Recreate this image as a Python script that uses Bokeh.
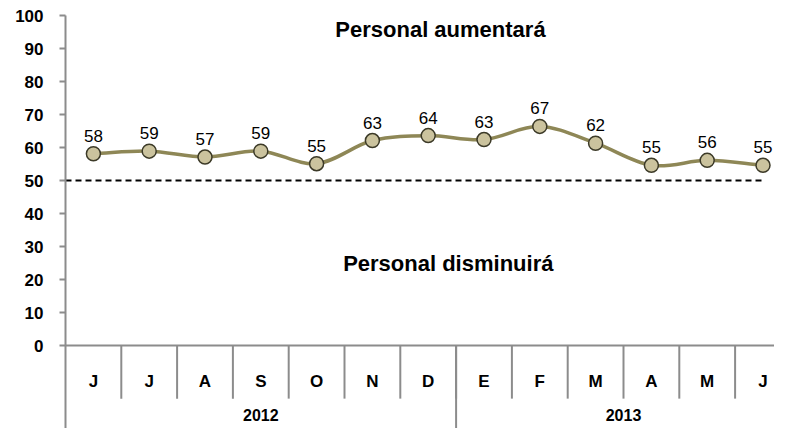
from bokeh.plotting import figure
from bokeh.models import Range1d, FixedTicker
from bokeh.embed import file_html
from bokeh.resources import INLINE
from bokeh.core.properties import value

# ---- data ----
months = ["J", "J", "A", "S", "O", "N", "D", "E", "F", "M", "A", "M", "J"]
years = ["2012", "2013"]
year_counts = [7, 6]
values = [58.1, 58.9, 57.1, 58.9, 55.1, 62.1, 63.6, 62.4, 66.4, 61.3, 54.6, 56.1, 54.6]
value_labels = ["58", "59", "57", "59", "55", "63", "64", "63", "67", "62", "55", "56", "55"]
y_ticks = list(range(0, 101, 10))
threshold = 50
top_text = "Personal aumentará"
bottom_text = "Personal disminuirá"

FONT = "Liberation Sans"
LINE_COL = "#8E8756"
FILL_COL = "#CBC39E"
EDGE_COL = "#3C3A28"
AXIS_COL = "#8C8C8C"

n = len(months)
W, H = 774, 428
LEFT, TOP = 65, 15
CAT_PX = 55.8
PX_PER_UNIT = 3.3
X_END = (W - LEFT) / CAT_PX
Y_BOTTOM = 100 - (H - TOP) / PX_PER_UNIT

p = figure(width=W, height=H, output_backend="svg", toolbar_location=None,
           x_range=Range1d(0, X_END), y_range=Range1d(Y_BOTTOM, 100),
           x_axis_location=None, min_border_left=LEFT, min_border_right=0,
           min_border_top=TOP, min_border_bottom=0)
p.outline_line_color = None
p.xgrid.visible = False
p.ygrid.visible = False
p.background_fill_color = "white"

ax = p.yaxis[0]
ax.ticker = FixedTicker(ticks=y_ticks)
ax.axis_line_color = AXIS_COL
ax.axis_line_width = 2
ax.major_tick_line_color = AXIS_COL
ax.major_tick_line_width = 2
ax.major_tick_out = 6
ax.major_tick_in = 0
ax.minor_tick_line_color = None
ax.major_label_standoff = 16
ax.major_label_text_font = FONT
ax.major_label_text_font_style = "bold"
ax.major_label_text_font_size = "17px"
ax.major_label_text_color = "black"

# category axis drawn in data space below zero
p.segment(x0=[0], y0=[0], x1=[n], y1=[0], line_color=AXIS_COL, line_width=2)
p.segment(x0=list(range(1, n + 1)), y0=[0] * n, x1=list(range(1, n + 1)), y1=[-16.1] * n,
          line_color=AXIS_COL, line_width=2)
bounds = []
acc = 0
for c in year_counts:
    acc += c
    bounds.append(acc)
p.segment(x0=bounds, y0=[0] * len(bounds), x1=bounds, y1=[Y_BOTTOM] * len(bounds),
          line_color=AXIS_COL, line_width=2)

xs = [i + 0.5 for i in range(n)]
p.text(x=xs, y=[-10.9] * n, text=months, text_align="center", text_baseline="middle",
       text_font=value(FONT), text_font_style="bold", text_font_size="17px", text_color="black")
starts = [0] + bounds[:-1]
ycx = [s + c / 2 for s, c in zip(starts, year_counts)]
p.text(x=ycx, y=[-21.2] * len(years), text=years, text_align="center", text_baseline="middle",
       text_font=value(FONT), text_font_style="bold", text_font_size="16px", text_color="black")

# threshold dashed line
p.segment(x0=[0], y0=[threshold], x1=[n - 0.5], y1=[threshold], line_color="black",
          line_width=2, line_dash="6 4")

# smoothed line via bezier segments
tang = []
for i in range(n):
    if i == 0:
        tang.append(((xs[1] - xs[0]), (values[1] - values[0])))
    elif i == n - 1:
        tang.append(((xs[-1] - xs[-2]), (values[-1] - values[-2])))
    else:
        tang.append(((xs[i + 1] - xs[i - 1]) / 2, (values[i + 1] - values[i - 1]) / 2))
x0 = xs[:-1]
y0 = values[:-1]
x1 = xs[1:]
y1 = values[1:]
cx0 = [xs[i] + tang[i][0] / 3 for i in range(n - 1)]
cy0 = [values[i] + tang[i][1] / 3 for i in range(n - 1)]
cx1 = [xs[i + 1] - tang[i + 1][0] / 3 for i in range(n - 1)]
cy1 = [values[i + 1] - tang[i + 1][1] / 3 for i in range(n - 1)]
p.bezier(x0=x0, y0=y0, x1=x1, y1=y1, cx0=cx0, cy0=cy0, cx1=cx1, cy1=cy1,
         line_color=LINE_COL, line_width=3.5)

p.scatter(x=xs, y=values, marker="circle", size=14, fill_color=FILL_COL,
          line_color=EDGE_COL, line_width=1.5)

p.text(x=xs, y=values, text=value_labels, text_align="center", text_baseline="alphabetic",
       y_offset=-18, text_font=value(FONT), text_font_size="17px", text_color="black")

p.text(x=[6.72], y=[95.8], text=[top_text], text_align="center", text_baseline="middle",
       text_font=value(FONT), text_font_style="bold", text_font_size="22px", text_color="black")
p.text(x=[6.86], y=[24.8], text=[bottom_text], text_align="center", text_baseline="middle",
       text_font=value(FONT), text_font_style="bold", text_font_size="22px", text_color="black")

open("out.html", "w").write(file_html(p, INLINE))
